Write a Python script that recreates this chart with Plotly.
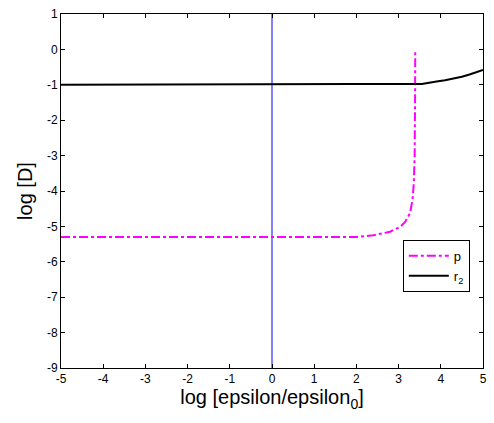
import plotly.graph_objects as go

# p curve
p_x = [-5, 2.0, 2.4, 2.8, 3.04, 3.15, 3.27, 3.33, 3.36, 3.38, 3.39, 3.395]
p_y = [-5.3, -5.3, -5.25, -5.15, -5.01, -4.88, -4.63, -4.25, -3.78, -3.0, -1.5, 0]

# r2 curve
r2_x = [-5, 1.92, 1.94, 3.55, 3.65, 3.75, 3.90, 4.10, 4.29, 4.50, 4.68, 4.85, 5.0]
r2_y = [-1.0, -1.0, -0.98, -0.975, -0.96, -0.94, -0.91, -0.87, -0.83, -0.77, -0.71, -0.65, -0.58]

# vertical reference line
v_x = [0, 0]
v_y = [-9, 1]

x_ticks = [-5, -4, -3, -2, -1, 0, 1, 2, 3, 4, 5]
y_ticks = [-9, -8, -7, -6, -5, -4, -3, -2, -1, 0, 1]

FONT = "Liberation Sans"

fig = go.Figure()
fig.add_trace(go.Scatter(x=v_x, y=v_y, mode="lines", line=dict(color="blue", width=1),
                         showlegend=False, hoverinfo="skip"))
fig.add_trace(go.Scatter(x=p_x, y=p_y, mode="lines", name="p",
                         line=dict(color="#ff00ff", width=2, dash="dashdot")))
fig.add_trace(go.Scatter(x=r2_x, y=r2_y, mode="lines", name="r<sub>2</sub>",
                         line=dict(color="black", width=2)))

axis_common = dict(showgrid=False, zeroline=False, showline=True, linecolor="black",
                   linewidth=1, mirror="ticks", ticks="inside", ticklen=4,
                   tickcolor="black", tickfont=dict(family=FONT, size=12, color="black"))

fig.update_layout(
    width=494, height=423,
    margin=dict(l=61, r=7, t=14, b=55),
    paper_bgcolor="white", plot_bgcolor="white",
    font=dict(family=FONT, color="black"),
    xaxis=dict(range=[-5, 5], tickvals=x_ticks, ticktext=[str(v) for v in x_ticks],
               title=dict(text="log [epsilon/epsilon<sub>0</sub>]", font=dict(family=FONT, size=20), standoff=4),
               **axis_common),
    yaxis=dict(range=[-9, 1], tickvals=y_ticks, ticktext=[str(v) for v in y_ticks],
               title=dict(text="log [D]", font=dict(family=FONT, size=20), standoff=8),
               **axis_common),
    legend=dict(x=0.81, y=0.362, xanchor="left", yanchor="top",
                bordercolor="black", borderwidth=1, bgcolor="white",
                font=dict(family=FONT, size=13), tracegroupgap=0, itemwidth=40),
)

fig.write_html("out.html")
